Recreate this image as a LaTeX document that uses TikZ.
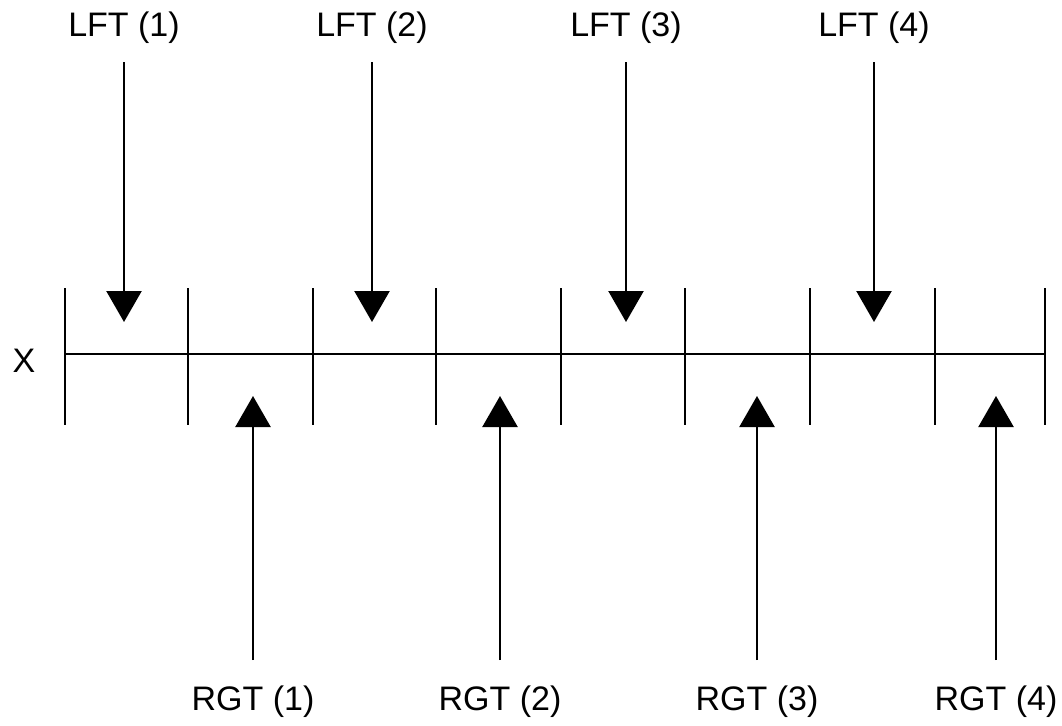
\documentclass[tikz,border=0pt]{standalone}
\usepackage{fontspec}
\setmainfont{Liberation Sans}
\usetikzlibrary{arrows.meta}
\tikzset{>={Triangle[width=35pt,length=31pt]}}
\tikzset{lbl/.style={anchor=base,inner sep=0pt,font=\fontsize{34}{40}\selectfont},
  axis/.style={line width=2.4pt},
  dnarr/.style={axis,->,shorten <=18pt},
  uparr/.style={axis,->,shorten <=25pt}}

\begin{document}
\begin{tikzpicture}[x=1pt,y=-1pt]
\useasboundingbox (0,0) rectangle (1062,725);
% the line X and its ticks
\node[lbl] (xlbl) at (24,372) {X};
\draw[axis] (65,354)--(1045,354);
\draw[axis] (65,288)--(65,425);
\draw[axis] (188,288)--(188,425);
\draw[axis] (313,288)--(313,425);
\draw[axis] (436,288)--(436,425);
\draw[axis] (561,288)--(561,425);
\draw[axis] (685,288)--(685,425);
\draw[axis] (810,288)--(810,425);
\draw[axis] (935,288)--(935,425);
\draw[axis] (1045,288)--(1045,425);
% LFT arrows
\node[lbl] (lft1) at (124,37) {LFT (1)};
\node[lbl] (lft2) at (372,37) {LFT (2)};
\node[lbl] (lft3) at (626,37) {LFT (3)};
\node[lbl] (lft4) at (874,37) {LFT (4)};
\coordinate (d1) at (124,322);
\coordinate (d2) at (372,322);
\coordinate (d3) at (626,322);
\coordinate (d4) at (874,322);
\draw[dnarr] (lft1.south)--(d1);
\draw[dnarr] (lft2.south)--(d2);
\draw[dnarr] (lft3.south)--(d3);
\draw[dnarr] (lft4.south)--(d4);
% RGT arrows
\node[lbl] (rgt1) at (253,710) {RGT (1)};
\node[lbl] (rgt2) at (500,710) {RGT (2)};
\node[lbl] (rgt3) at (757,710) {RGT (3)};
\node[lbl] (rgt4) at (996,710) {RGT (4)};
\coordinate (u1) at (253,396);
\coordinate (u2) at (500,396);
\coordinate (u3) at (757,396);
\coordinate (u4) at (996,396);
\draw[uparr] (rgt1.north)--(u1);
\draw[uparr] (rgt2.north)--(u2);
\draw[uparr] (rgt3.north)--(u3);
\draw[uparr] (rgt4.north)--(u4);
\end{tikzpicture}
\end{document}
